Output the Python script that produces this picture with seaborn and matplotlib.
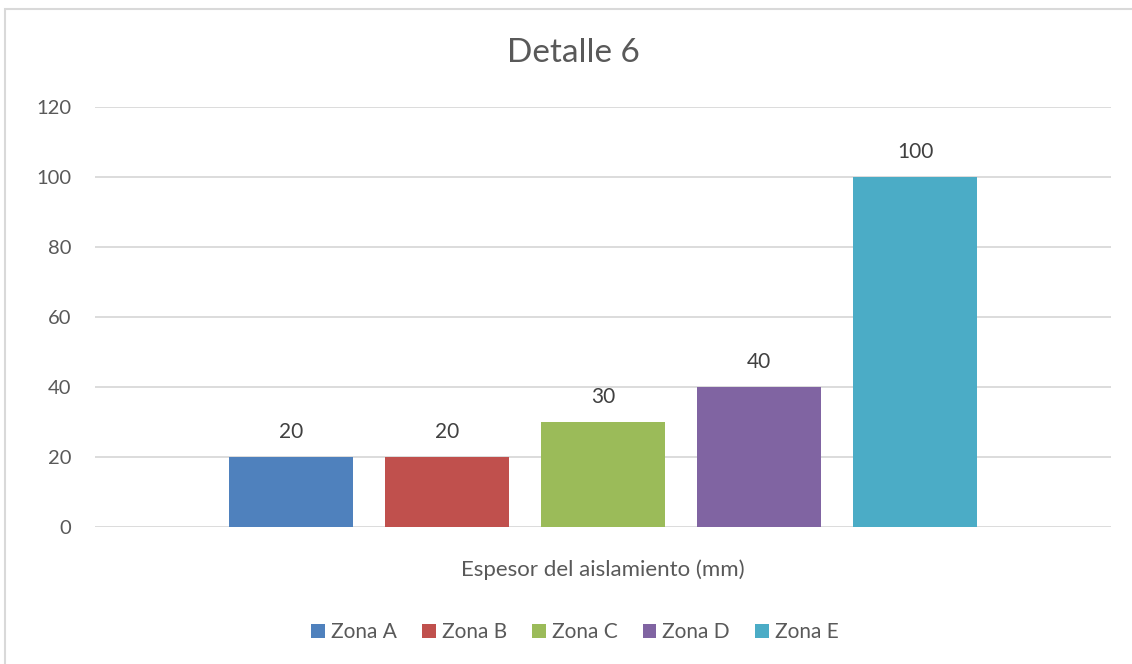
import pandas as pd
import matplotlib.pyplot as plt
import seaborn as sns
from matplotlib.patches import Rectangle

# Datos del gráfico
categoria = "Espesor del aislamiento (mm)"
zonas = ["Zona A", "Zona B", "Zona C", "Zona D", "Zona E"]
espesores = [20, 20, 30, 40, 100]
colores = ["#4F81BD", "#C0504D", "#9BBB59", "#8064A2", "#4BACC6"]

df = pd.DataFrame({"Categoria": [categoria] * len(zonas), "Zona": zonas, "Espesor": espesores})

sns.set_theme(style="white")
plt.rcParams["font.family"] = ["Lato", "DejaVu Sans"]
gris_texto = "#595959"

fig = plt.figure(figsize=(11.32, 6.64), dpi=100)
ax = fig.add_axes([95 / 1132, 1 - 527 / 664, 1016 / 1132, 420 / 664])

sns.barplot(data=df, x="Categoria", y="Espesor", hue="Zona", palette=colores,
            width=0.768, gap=0.21, saturation=1, linewidth=0, ax=ax)

for cont in ax.containers:
    ax.bar_label(cont, padding=11, fontsize=15, color="#404040")

ax.set_ylim(0, 120)
ax.set_yticks(range(0, 121, 20))
ax.yaxis.grid(True, color="#D9D9D9", linewidth=1.3)
ax.set_axisbelow(True)
sns.despine(ax=ax, left=True, bottom=True, top=True, right=True)
ax.tick_params(axis="y", length=0, pad=17, labelsize=14.5, labelcolor=gris_texto)
ax.tick_params(axis="x", length=0, pad=23, labelsize=16, labelcolor=gris_texto)
ax.set_xlabel("")
ax.set_ylabel("")

fig.text(573 / 1132, 1 - 53 / 664, "Detalle 6", ha="center", va="center",
         fontsize=24, color=gris_texto)

handles, labels = ax.get_legend_handles_labels()
ax.get_legend().remove()
fig.legend(handles, labels, loc="center", bbox_to_anchor=(575 / 1132, 1 - 632 / 664),
           ncol=5, frameon=False, fontsize=15, labelcolor=gris_texto,
           handlelength=0.65, handleheight=0.65, handletextpad=0.3, columnspacing=1.2)

# Marco del gráfico
fig.patches.append(Rectangle((5 / 1132, -0.05), 1.1, 1 - 9 / 664 + 0.05, transform=fig.transFigure,
                             fill=False, edgecolor="#D9D9D9", linewidth=1.5))

fig.savefig("out.png", dpi=100)
